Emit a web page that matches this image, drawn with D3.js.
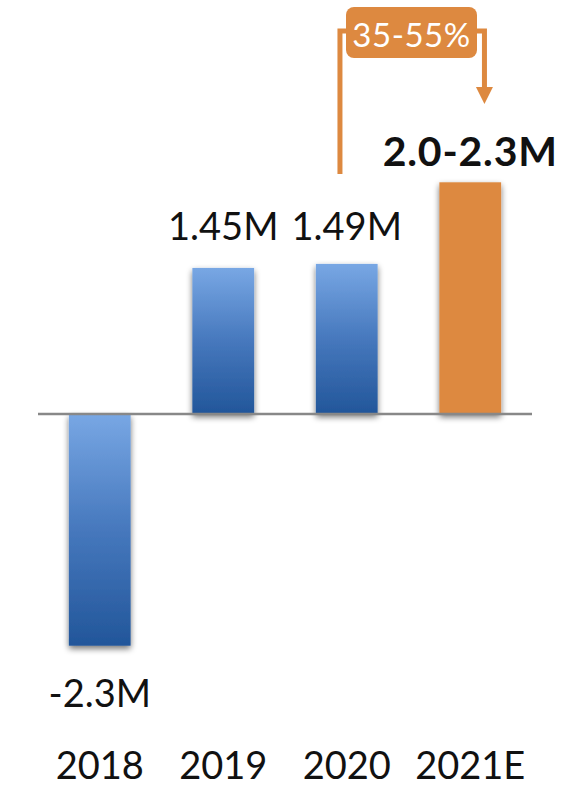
<!DOCTYPE html>
<html>
<head>
<meta charset="utf-8">
<script src="https://cdn.jsdelivr.net/npm/d3@7"></script>
<style>
  html, body { margin: 0; padding: 0; background: #fff; }
  svg { display: block; }
  text { font-family: Lato, "Open Sans", sans-serif; fill: #111; }
</style>
</head>
<body>
<svg id="chart" width="572" height="788"></svg>
<script>
// Net result per year, in millions
const years = ["2018", "2019", "2020", "2021E"];
const values = [-2.3, 1.45, 1.49, 2.3];
const valueLabels = ["-2.3M", "1.45M", "1.49M", "2.0-2.3M"];
const estimateYear = "2021E";
const growthLabel = "35-55%";

const W = 572, H = 788;
const svg = d3.select("#chart");

const x = d3.scaleBand().domain(years).range([38, 532]).paddingInner(0.5).paddingOuter(0.25);
const y = d3.scaleLinear().domain([-2.3, 2.3]).range([645.7, 182.3]);

const orange = "#dd8940";
const defs = svg.append("defs");

const grad = defs.append("linearGradient").attr("id", "blueGrad")
  .attr("x1", 0).attr("y1", 0).attr("x2", 0).attr("y2", 1);
grad.append("stop").attr("offset", "0%").attr("stop-color", "#78a7e4");
grad.append("stop").attr("offset", "50%").attr("stop-color", "#4678bd");
grad.append("stop").attr("offset", "100%").attr("stop-color", "#22569a");

const shadow = defs.append("filter").attr("id", "shadow")
  .attr("x", "-30%").attr("y", "-10%").attr("width", "160%").attr("height", "125%");
shadow.append("feGaussianBlur").attr("in", "SourceAlpha").attr("stdDeviation", 3).attr("result", "b");
shadow.append("feOffset").attr("in", "b").attr("dy", 3).attr("result", "o");
shadow.append("feComponentTransfer").attr("in", "o").attr("result", "s")
  .append("feFuncA").attr("type", "linear").attr("slope", 0.55);
const merge = shadow.append("feMerge");
merge.append("feMergeNode").attr("in", "s");
merge.append("feMergeNode").attr("in", "SourceGraphic");

const rows = years.map((yr, i) => ({ year: yr, value: values[i], label: valueLabels[i], est: yr === estimateYear }));

// Bars
svg.append("g").selectAll("rect").data(rows).join("rect")
  .attr("x", d => x(d.year))
  .attr("width", x.bandwidth())
  .attr("y", d => Math.min(y(d.value), y(0)))
  .attr("height", d => Math.abs(y(d.value) - y(0)))
  .attr("fill", d => d.est ? orange : "url(#blueGrad)")
  .attr("filter", "url(#shadow)");

// Zero line
svg.append("line")
  .attr("x1", 38).attr("x2", 532)
  .attr("y1", y(0)).attr("y2", y(0))
  .attr("stroke", "#888").attr("stroke-width", 2.5);

// Value labels
const regularTop = d3.min(rows.filter(d => d.value > 0 && !d.est), d => y(d.value));
svg.append("g").selectAll("text").data(rows).join("text")
  .attr("x", d => x(d.year) + x.bandwidth() / 2)
  .attr("y", d => d.value < 0 ? y(d.value) + 61 : (d.est ? y(d.value) - 16 : regularTop - 24))
  .attr("text-anchor", "middle")
  .attr("font-size", d => d.est ? 41 : 38)
  .attr("font-weight", d => d.est ? 700 : 400)
  .attr("letter-spacing", d => d.est ? 0.8 : 0)
  .text(d => d.label);

// Category axis labels
const xAxis = svg.append("g").attr("transform", "translate(0,779)")
  .call(d3.axisBottom(x).tickSize(0).tickPadding(0));
xAxis.select(".domain").remove();
xAxis.selectAll("text")
  .attr("dy", 0)
  .attr("font-size", 38)
  .attr("font-family", "Lato, 'Open Sans', sans-serif")
  .attr("fill", "#111");

// Growth annotation: connector from 2020 up over to the estimate bar
const x0 = x("2020") + x.bandwidth() * 0.39;
const x1 = x(estimateYear) + x.bandwidth() * 0.73;
const topY = 31;
svg.append("path")
  .attr("d", `M${x0},${y(values[2]) - 90} V${topY} H${x1} V88`)
  .attr("fill", "none").attr("stroke", orange).attr("stroke-width", 5);
svg.append("path")
  .attr("d", `M${x1 - 8.5},87 L${x1 + 8.5},87 L${x1},104 Z`)
  .attr("fill", orange);

const boxX = 346, boxW = 131, boxY = 7, boxH = 51;
svg.append("rect")
  .attr("x", boxX).attr("y", boxY).attr("width", boxW).attr("height", boxH)
  .attr("rx", 8).attr("fill", orange);
svg.append("text")
  .attr("x", boxX + boxW / 2).attr("y", 47)
  .attr("text-anchor", "middle")
  .attr("font-size", 33)
  .attr("letter-spacing", 0.5)
  .style("fill", "#fff")
  .text(growthLabel);
</script>
</body>
</html>
